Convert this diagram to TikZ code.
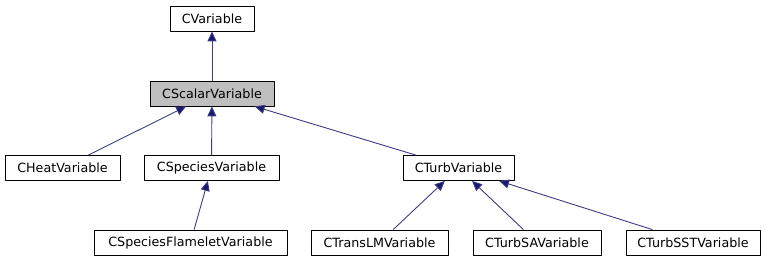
\documentclass[tikz,border=0pt]{standalone}
\usepackage{fontspec}
\setmainfont{DejaVu Sans}
\usepackage{tikz}
\usetikzlibrary{arrows.meta}
\definecolor{midnightblue}{HTML}{191970}

\begin{document}
\begin{tikzpicture}[x=1pt, y=-1pt, line join=round,
    cls/.style={draw=black, line width=0.8pt, minimum height=25pt, inner sep=0pt,
      font=\fontsize{12.7}{15}\selectfont},
    current/.style={cls, fill=black!25},
    inherit/.style={draw=midnightblue!85, line width=0.9pt,
      -{Triangle[length=10pt, width=9pt, fill=midnightblue]}}]

  % frame of the whole graph
  \useasboundingbox (0,0) rectangle (766,261);

  % base classes
  \node[cls, minimum width=84pt] (var) at (212,18.5) {CVariable};
  \node[current, minimum width=124pt] (scalar) at (212,93.5) {CScalarVariable};

  % second row
  \node[cls, minimum width=115pt] (heat) at (62.5,168) {CHeatVariable};
  \node[cls, minimum width=135pt] (species) at (211.5,168) {CSpeciesVariable};
  \node[cls, minimum width=111pt] (turb) at (458.5,168) {CTurbVariable};

  % leaves
  \node[cls, minimum width=193pt] (flamelet) at (190.5,242.5) {CSpeciesFlameletVariable};
  \node[cls, minimum width=137pt] (translm) at (379.5,242.5) {CTransLMVariable};
  \node[cls, minimum width=128pt] (turbsa) at (537,242.5) {CTurbSAVariable};
  \node[cls, minimum width=134pt] (turbsst) at (693,242.5) {CTurbSSTVariable};

  % inheritance
  \draw[inherit] (scalar) -- (var);
  \foreach \child in {heat, species, turb}
    \draw[inherit] (\child) -- (scalar);
  \draw[inherit] (flamelet) -- (species);
  \foreach \child in {translm, turbsa, turbsst}
    \draw[inherit] (\child) -- (turb);

\end{tikzpicture}
\end{document}
